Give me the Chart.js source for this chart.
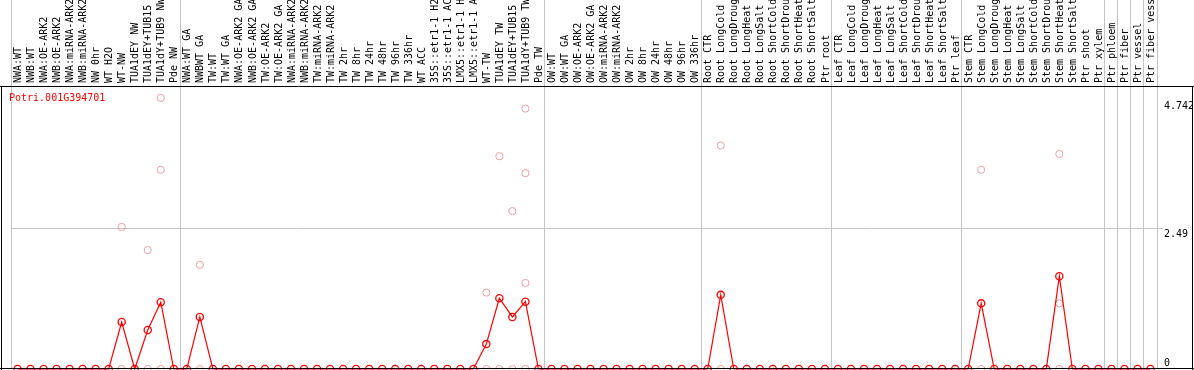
<!DOCTYPE html>
<html>
<head>
<meta charset="utf-8">
<title>Potri.001G394701</title>
<script src="https://cdn.jsdelivr.net/npm/chart.js@4.4.0/dist/chart.umd.min.js"></script>
<style>
    html, body { margin: 0; padding: 0; background: #fff; }
    #wrap { width: 1194px; height: 370px; }
</style>
</head>
<body>
<div id="wrap"><canvas id="exprChart" width="1194" height="370"></canvas></div>
<script>
const geneId = 'Potri.001G394701';

// sample names as printed (truncated) in the header
const categories = [
    'NWA:WT', 'NWB:WT', 'NWA:OE-ARK2', 'NWB:OE-ARK2', 'NWA:miRNA-ARK2', 'NWB:miRNA-ARK2',
    'NW 0hr', 'WT H2O', 'WT-NW', 'TUA1dEY NW', 'TUA1dEY+TUB15', 'TUA1dY+TUB9 NW', 'Pde NW',
    'NWA:WT GA', 'NWBWT GA', 'TW:WT', 'TW:WT GA', 'NWA:OE-ARK2 GA', 'NWB:OE-ARK2 GA',
    'TW:OE-ARK2', 'TW:OE-ARK2 GA', 'NWA:miRNA-ARK2', 'NWB:miRNA-ARK2', 'TW:miRNA-ARK2',
    'TW:miRNA-ARK2', 'TW 2hr', 'TW 8hr', 'TW 24hr', 'TW 48hr', 'TW 96hr', 'TW 336hr',
    'WT ACC', '35S::etr1-1 H2', '35S::etr1-1 AC', 'LMX5::etr1-1 H', 'LMX5::etr1-1 A',
    'WT-TW', 'TUA1dEY TW', 'TUA1dEY+TUB15', 'TUA1dY+TUB9 TW', 'Pde TW',
    'OW:WT', 'OW:WT GA', 'OW:OE-ARK2', 'OW:OE-ARK2 GA', 'OW:miRNA-ARK2', 'OW:miRNA-ARK2',
    'OW 2hr', 'OW 8hr', 'OW 24hr', 'OW 48hr', 'OW 96hr', 'OW 336hr',
    'Root CTR', 'Root LongCold', 'Root LongDroug', 'Root LongHeat', 'Root LongSalt',
    'Root ShortCold', 'Root ShortDrou', 'Root ShortHeat', 'Root ShortSalt', 'Ptr root',
    'Leaf CTR', 'Leaf LongCold', 'Leaf LongDroug', 'Leaf LongHeat', 'Leaf LongSalt',
    'Leaf ShortCold', 'Leaf ShortDrou', 'Leaf ShortHeat', 'Leaf ShortSalt', 'Ptr leaf',
    'Stem CTR', 'Stem LongCold', 'Stem LongDroug', 'Stem LongHeat', 'Stem LongSalt',
    'Stem ShortCold', 'Stem ShortDrou', 'Stem ShortHeat', 'Stem ShortSalt', 'Ptr shoot',
    'Ptr xylem', 'Ptr phloem', 'Ptr fiber', 'Ptr vessel', 'Ptr fiber vess'
];

// mean expression per sample (red line)
const meanValues = [
    0, 0, 0, 0, 0, 0, 0, 0, 0.83, 0, 0.69, 1.18, 0,
    0, 0.92, 0, 0, 0, 0, 0, 0, 0, 0, 0, 0, 0, 0, 0, 0, 0, 0,
    0, 0, 0, 0, 0, 0.44, 1.25, 0.92, 1.19, 0,
    0, 0, 0, 0, 0, 0, 0, 0, 0, 0, 0, 0,
    0, 1.31, 0, 0, 0, 0, 0, 0, 0, 0,
    0, 0, 0, 0, 0, 0, 0, 0, 0, 0,
    0, 1.16, 0, 0, 0, 0, 0, 1.64, 0, 0,
    0, 0, 0, 0, 0
];

// individual replicates (pink circles): sample index + value
const repIndex = [8, 8, 10, 10, 11, 11, 11, 14, 14, 36, 36, 37, 37, 38, 38,
    39, 39, 39, 39, 54, 54, 74, 74, 80, 80, 80];
const repValues = [2.51, 0, 2.10, 0, 4.79, 3.52, 0, 1.84, 0, 1.35, 0, 3.76, 0, 2.79, 0,
    4.60, 3.46, 1.52, 0, 3.95, 0, 3.52, 0, 3.80, 1.16, 0];

const yTickValues = [0, 2.49, 4.742];
const yMax = 5.0;

// a gray separator is drawn before each of these sample indexes
const groupStarts = [0, 13, 41, 53, 63, 73, 84, 85, 86, 87, 88];

const FONT = { family: '"DejaVu Sans Mono", monospace', size: 10 };
const SEP_COLOR = '#c4c4c4';

// black frame round the plot + header rule
const framePlugin = {
    id: 'frame',
    afterDatasetsDraw(chart) {
        const { ctx, chartArea, width } = chart;
        ctx.save();
        ctx.strokeStyle = '#000';
        ctx.lineWidth = 1;
        ctx.beginPath();
        ctx.moveTo(0, chartArea.top + 0.5);
        ctx.lineTo(width, chartArea.top + 0.5);
        ctx.moveTo(1.5, chartArea.top);
        ctx.lineTo(1.5, chart.height);
        ctx.moveTo(0, chartArea.bottom - 0.5);
        ctx.lineTo(width, chartArea.bottom - 0.5);
        ctx.moveTo(width - 1.5, chartArea.top);
        ctx.lineTo(width - 1.5, chart.height);
        ctx.stroke();
        ctx.restore();
    }
};

// gene id written in the top left corner of the plot
const geneLabelPlugin = {
    id: 'geneLabel',
    afterDraw(chart) {
        const { ctx, chartArea } = chart;
        ctx.save();
        ctx.font = FONT.size + 'px ' + FONT.family;
        ctx.fillStyle = '#ff0000';
        ctx.textBaseline = 'alphabetic';
        ctx.fillText(chart.data.datasets[0].label, 9, chartArea.top + 15);
        ctx.restore();
    }
};

const ctx = document.getElementById('exprChart').getContext('2d');
const chart = new Chart(ctx, {
    type: 'line',
    data: {
        labels: categories,
        datasets: [
            {
                label: geneId,
                data: meanValues,
                borderColor: '#ff0000',
                borderWidth: 1.2,
                tension: 0,
                pointStyle: 'circle',
                pointRadius: 3.6,
                pointBorderWidth: 1.3,
                pointBorderColor: '#ff0000',
                pointBackgroundColor: 'rgba(255,255,255,0)',
                clip: false
            },
            {
                label: 'replicates',
                xAxisID: 'xRep',
                data: repIndex.map((idx, i) => ({ x: idx, y: repValues[i] })),
                showLine: false,
                pointStyle: 'circle',
                pointRadius: 3.6,
                pointBorderWidth: 1,
                pointBorderColor: '#ee9e9e',
                pointBackgroundColor: 'rgba(255,255,255,0)',
                clip: false
            }
        ]
    },
    options: {
        responsive: false,
        animation: false,
        devicePixelRatio: 1,
        layout: {
            autoPadding: false,
            padding: { left: 11, right: 0, top: 0, bottom: 1 }
        },
        plugins: {
            legend: { display: false },
            tooltip: { enabled: false }
        },
        scales: {
            x: {
                type: 'category',
                position: 'top',
                offset: true,
                border: { display: false },
                grid: {
                    offset: true,
                    lineWidth: 1,
                    tickLength: 86,
                    color: (c) => {
                        const i = c.index === undefined ? categories.length : c.index;
                        return groupStarts.includes(i) ? SEP_COLOR : 'rgba(0,0,0,0)';
                    }
                },
                ticks: {
                    autoSkip: false,
                    minRotation: 90,
                    maxRotation: 90,
                    padding: -83,
                    labelOffset: 13,
                    color: '#000',
                    font: FONT
                },
                afterFit: (scale) => {
                    scale.height = 86;
                    scale.paddingLeft = 0;
                    scale.paddingRight = 0;
                }
            },
            xRep: {
                type: 'linear',
                display: false,
                min: -0.5,
                max: categories.length - 0.5
            },
            y: {
                position: 'right',
                min: 0,
                max: yMax,
                border: { display: false },
                afterBuildTicks: (scale) => {
                    scale.ticks = yTickValues.map(v => ({ value: v }));
                },
                grid: {
                    tickLength: 6,
                    color: (c) => (c.tick && c.tick.value === 2.49) ? SEP_COLOR : 'rgba(0,0,0,0)'
                },
                ticks: {
                    padding: 1,
                    color: '#000',
                    font: FONT,
                    callback: (value) => value === 0 ? ['0', ''] : ['', String(value)]
                },
                afterFit: (scale) => {
                    scale.width = 37;
                    scale.paddingTop = 0;
                    scale.paddingBottom = 0;
                }
            }
        }
    },
    plugins: [framePlugin, geneLabelPlugin]
});
</script>
</body>
</html>
